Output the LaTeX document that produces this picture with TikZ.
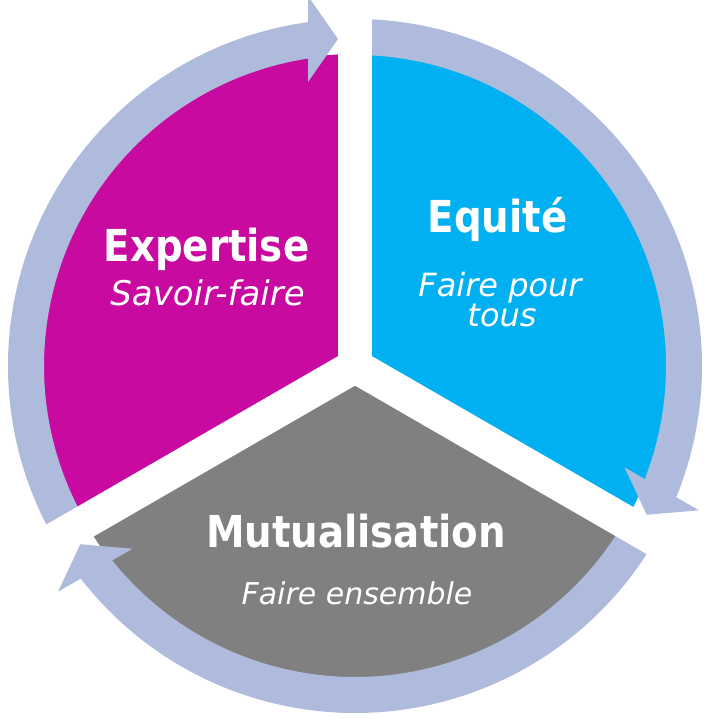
\documentclass[tikz,border=0pt]{standalone}
\usepackage{fontspec}
\newfontfamily\tfont{DejaVu Sans}[FakeStretch=0.88]
\newfontfamily\ifont{DejaVu Sans}
\definecolor{cmag}{RGB}{200,10,160}
\definecolor{cblue}{RGB}{0,176,240}
\definecolor{cgray}{RGB}{128,128,128}
\definecolor{cband}{RGB}{175,187,221}
\tikzset{
  title/.style={text=white, inner sep=0pt, anchor=base, font=\tfont\bfseries\fontsize{44}{44}\selectfont},
  sub/.style={text=white, inner sep=0pt, anchor=base, font=\ifont\itshape\fontsize{#1}{#1}\selectfont},
  bandarc/.style={draw=cband, line width=36pt},
  gapline/.style={draw=white, line width=34pt},
  head/.style={fill=cband}
}
\begin{document}
\begin{tikzpicture}[x=1pt,y=1pt]
\useasboundingbox (0,0) rectangle (704,719);
\begin{scope}[shift={(355,353)}]
  % sectors
  \fill[cmag] (0,0) -- (90:312) arc[start angle=90,end angle=210,radius=312] -- cycle;
  \fill[cgray] (0,0) -- (210:312) arc[start angle=210,end angle=330,radius=312] -- cycle;
  \fill[cblue] (0,0) -- (-30:312) arc[start angle=-30,end angle=90,radius=312] -- cycle;
  % band arcs
  \draw[bandarc] (210:329) arc[start angle=210,end angle=97,radius=329];
  \draw[bandarc] (90:329) arc[start angle=90,end angle=-23,radius=329];
  \draw[bandarc] (330:329) arc[start angle=330,end angle=217,radius=329];
  % white gaps
  \coordinate (c) at (0,0);
  \coordinate (g1) at (90:370);
  \coordinate (g2) at (210:370);
  \coordinate (g3) at (330:370);
  \draw[gapline] (c) -- (g1);
  \draw[gapline] (c) -- (g2);
  \draw[gapline] (c) -- (g3);
  % arrow heads
  \foreach \a in {90,-30,210}{
    \fill[head, rotate=\a-90] (-17,327) -- (-47,370) -- (-47,284) -- cycle;
  }
\end{scope}
\node[title] (t1) at (206.5,457) {Expertise};
\node[sub=34] (s1) at (207.5,413) {Savoir-faire};
\node[title] (t2) at (497.5,486) {Equité};
\node[sub=32] (s2) at (500,422) {Faire pour};
\node[sub=32] (s3) at (502,392) {tous};
\node[title] (t3) at (356,171) {Mutualisation};
\node[sub=30] (s4) at (357,114) {Faire ensemble};
\end{tikzpicture}
\end{document}
